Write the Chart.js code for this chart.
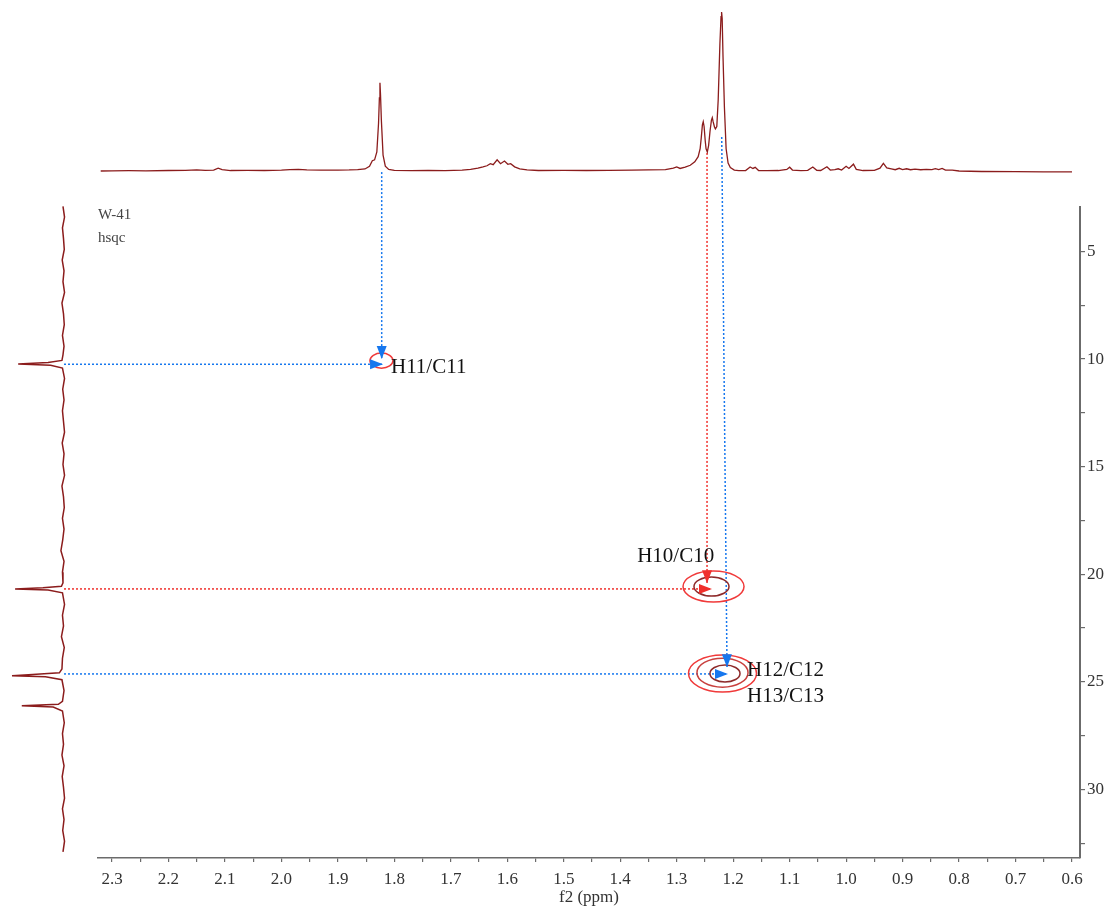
<!DOCTYPE html>
<html>
<head>
<meta charset="utf-8">
<title>W-41 hsqc</title>
<script src="https://cdn.jsdelivr.net/npm/chart.js@4.4.1/dist/chart.umd.min.js"></script>
<style>
  html, body { margin: 0; padding: 0; background: #fff; overflow: hidden; }
  #hsqc { display: block; }
</style>
</head>
<body>
<canvas id="hsqc" width="1115" height="906"></canvas>
<script>
// W-41 HSQC - 2D map with 1H trace on top and 13C trace on the left

// ── Axis ticks ────────────────────────────────────────────────────────────────
const xLabelTicks = [2.3, 2.2, 2.1, 2.0, 1.9, 1.8, 1.7, 1.6, 1.5, 1.4, 1.3, 1.2, 1.1, 1.0, 0.9, 0.8, 0.7, 0.6];
const xMinorTicks = [2.25, 2.15, 2.05, 1.95, 1.85, 1.75, 1.65, 1.55, 1.45, 1.35, 1.25, 1.15, 1.05, 0.95, 0.85, 0.75, 0.65];
const yLabelTicks = [5, 10, 15, 20, 25, 30];
const yMinorTicks = [7.5, 12.5, 17.5, 22.5, 27.5, 32.5];

// ── 1H trace (f2, top) ────────────────────────────────────────────────────────
const specPpm = [
    2.320, 2.300, 2.270, 2.240, 2.200, 2.170, 2.150, 2.135, 2.120, 2.112, 2.105, 2.090,
    2.060, 2.030, 2.000, 1.985, 1.970, 1.955, 1.930, 1.900, 1.880, 1.865, 1.852, 1.844,
    1.839, 1.835, 1.831, 1.828, 1.8265, 1.8255, 1.8245, 1.823, 1.820, 1.816, 1.810, 1.800,
    1.770, 1.740, 1.710, 1.680, 1.665, 1.652, 1.643, 1.636, 1.630, 1.625, 1.618, 1.612,
    1.605, 1.599, 1.594, 1.587, 1.578, 1.565, 1.545, 1.500, 1.460, 1.420, 1.380, 1.350,
    1.320, 1.306, 1.300, 1.294, 1.285, 1.276, 1.268, 1.262, 1.2585, 1.2565, 1.2545, 1.253,
    1.2515, 1.2495, 1.248, 1.2458, 1.2435, 1.241, 1.2385, 1.237, 1.2355, 1.233, 1.2315, 1.229,
    1.2265, 1.2235, 1.2215, 1.2205, 1.2195, 1.218, 1.2155, 1.2125, 1.209, 1.205, 1.198, 1.190,
    1.178, 1.170, 1.165, 1.161, 1.155, 1.140, 1.120, 1.105, 1.100, 1.095, 1.080, 1.068,
    1.059, 1.052, 1.045, 1.034, 1.028, 1.020, 1.014, 1.008, 1.000, 0.995, 0.987, 0.982,
    0.970, 0.950, 0.940, 0.934, 0.928, 0.920, 0.913, 0.906, 0.900, 0.893, 0.886, 0.878,
    0.868, 0.858, 0.848, 0.842, 0.836, 0.830, 0.824, 0.812, 0.800, 0.760, 0.700, 0.650, 0.600
];
const specInt = [
    0.0, 0.1, 0.2, 0.1, 0.3, 0.4, 0.7, 0.4, 0.6, 1.8, 0.8, 0.3,
    0.4, 0.3, 0.6, 0.9, 1.0, 0.7, 0.5, 0.6, 0.7, 0.9, 1.3, 3.0,
    6.5, 7.0, 12, 30, 46, 55.5, 48, 32, 10, 3.0, 1.0, 0.4,
    0.2, 0.3, 0.2, 0.6, 1.0, 1.8, 2.6, 3.3, 4.6, 4.0, 7.0, 4.6,
    6.3, 4.2, 4.6, 2.6, 1.3, 0.7, 0.3, 0.4, 0.3, 0.4, 0.5, 0.7,
    0.9, 1.8, 2.6, 1.6, 2.4, 3.6, 5.8, 9.0, 14, 21, 29, 31,
    28, 19, 14, 12, 16, 25, 32, 33.5, 31, 27.5, 26.5, 28,
    45, 80, 97, 100, 96, 72, 40, 14, 5, 2.2, 0.6, 0.2,
    0.3, 2.5, 1.6, 2.3, 0.3, 0.2, 0.3, 1.0, 2.4, 0.6, 0.2, 0.4,
    2.5, 0.4, 0.3, 2.7, 0.6, 0.8, 1.4, 0.6, 3.0, 1.6, 4.3, 1.0,
    0.3, 0.4, 1.8, 4.8, 2.0, 1.4, 0.8, 1.7, 0.9, 1.4, 0.8, 1.2,
    0.8, 1.0, 0.9, 1.5, 0.9, 1.6, 0.6, 0.5, 0.0, -0.3, -0.4, -0.5, -0.6
];

// ── 13C trace (f1, left) ──────────────────────────────────────────────────────
const projPpm = [
    2.9, 3.4, 3.9, 4.4, 4.9, 5.4, 5.9, 6.4, 6.9, 7.4, 7.9, 8.4, 8.9, 9.4, 9.8,
    10.06, 10.16, 10.23, 10.29, 10.42, 10.9, 11.4, 11.9, 12.4, 12.9, 13.4, 13.9,
    14.4, 14.9, 15.4, 15.9, 16.4, 16.9, 17.4, 17.9, 18.4, 18.9, 19.4, 19.9, 20.4,
    20.56, 20.63, 20.68, 20.73, 20.86, 21.4, 21.9, 22.4, 22.9, 23.4, 23.9, 24.4,
    24.58, 24.66, 24.71, 24.76, 24.9, 25.4, 25.9, 26.04, 26.11, 26.17, 26.35, 26.9,
    27.4, 27.9, 28.4, 28.9, 29.4, 29.9, 30.4, 30.9, 31.4, 31.9, 32.4, 32.9
];
const projInt = [
    1, -2, 2, 0, -1.5, 2.5, -1, 1, -2, 3, 0, -1.5, 2, -1, 1,
    3, 30, 88, 25, 2, -2, 1.5, -1, 2, 0, -2, 2.5,
    -1, 1, -2, 3, 0, -1.5, 2, -1, 1.5, 5, -1, 2, 1,
    4, 40, 94, 30, 2, -2, 2, 0, 4, -1.5, 2, 3,
    8, 60, 100, 35, 3, -1, 2, 10, 81, 20, 2, -1.5,
    2, 0, 3, -1, 2.5, 0, -2, 2, -1, 1.5, -2, 1
];

// ── Cross peaks (centre and half widths in ppm, contour level 0 = outer) ───────
const contourH      = [1.8228, 1.2348, 1.2384, 1.2189, 1.2189, 1.2145];
const contourC      = [10.07, 20.57, 20.57, 24.61, 24.57, 24.61];
const contourHalfH  = [0.0204, 0.054, 0.031, 0.0602, 0.0452, 0.0266];
const contourHalfC  = [0.35, 0.72, 0.44, 0.86, 0.674, 0.395];
const contourLevel  = [0, 0, 2, 0, 1, 2];

const peakNames  = ['H11/C11', 'H10/C10', 'H12/C12', 'H13/C13'];
const peakLabelH = [1.806, 1.370, 1.1755, 1.1755];
const peakLabelC = [10.41, 19.15, 24.45, 25.70];

// ── Correlation arrows (C below the axis start reaches up into the 1H trace) ──
const arrowFromH = [1.8224, 2.385, 1.2463, 2.385, 1.2203, 2.385];
const arrowFromC = [1.31, 10.24, 0.42, 20.68, -0.32, 24.63];
const arrowToH   = [1.8224, 1.820, 1.2463, 1.2375, 1.2109, 1.2092];
const arrowToC   = [10.0, 10.24, 20.42, 20.68, 24.32, 24.63];
const arrowTone  = ['blue', 'blue', 'red', 'red', 'blue', 'blue'];

// ── Layout & style ────────────────────────────────────────────────────────────
const AREA = { left: 98, top: 207, right: 1080, bottom: 858 };
const CANVAS_W = 1115, CANVAS_H = 906;

const colors = {
    trace: '#8b1c1c',
    axis: '#6b6b6b',
    tick: '#333333',
    blue: '#1677ee',
    red: '#f0302c',
    contour: ['#f03a3a', '#c8403e', '#8e2a2a']
};
const serif = "'Liberation Serif', 'Times New Roman', serif";

// value/pixel anchors measured on the reference -> min/max/reverse for a scale
function fitAxis(v0, p0, v1, p1, lo, hi, vertical) {
    const s = (p1 - p0) / (v1 - v0);
    const reverse = vertical ? s > 0 : s < 0;
    const pMin = vertical ? (reverse ? lo : hi) : (reverse ? hi : lo);
    const pMax = vertical ? (reverse ? hi : lo) : (reverse ? lo : hi);
    return { min: v0 + (pMin - p0) / s, max: v0 + (pMax - p0) / s, reverse: reverse };
}

const xFit    = fitAxis(2.3, 112, 0.6, 1072, AREA.left, AREA.right, false);
const yFit    = fitAxis(5, 251.5, 30, 789.5, AREA.top, AREA.bottom, true);
const specFit = fitAxis(0, 171, 100, 12, AREA.top, AREA.bottom, true);
const projFit = fitAxis(0, 63.5, 100, 12, AREA.left, AREA.right, false);

const tickList = (major, minor) => major.concat(minor).sort((a, b) => a - b).map(v => ({ value: v }));

// ── Datasets ──────────────────────────────────────────────────────────────────
const datasets = [
    {
        label: '1H',
        data: specPpm.map((p, i) => ({ x: p, y: specInt[i] })),
        xAxisID: 'x', yAxisID: 'ySpec',
        borderColor: colors.trace, borderWidth: 1.3, clip: false
    },
    {
        label: '13C',
        data: projInt.map((v, i) => ({ x: v, y: projPpm[i] })),
        xAxisID: 'xProj', yAxisID: 'y',
        borderColor: colors.trace, borderWidth: 1.5, clip: false
    }
];
arrowFromH.forEach((h, i) => {
    datasets.push({
        label: 'arrow' + i,
        data: [{ x: h, y: arrowFromC[i] }, { x: arrowToH[i], y: arrowToC[i] }],
        xAxisID: 'x', yAxisID: 'y',
        borderColor: colors[arrowTone[i]], borderWidth: 1.5, borderDash: [2, 2],
        clip: false, arrowHead: true
    });
});

// ── Contours, arrow heads and text ────────────────────────────────────────────
const overlay = {
    id: 'overlay',
    afterDatasetsDraw(chart) {
        const ctx = chart.ctx;
        const x = chart.scales.x, y = chart.scales.y;

        ctx.save();
        ctx.lineWidth = 1.5;
        contourH.forEach((h, i) => {
            const cx = x.getPixelForValue(h), cy = y.getPixelForValue(contourC[i]);
            const rx = Math.abs(x.getPixelForValue(h + contourHalfH[i]) - cx);
            const ry = Math.abs(y.getPixelForValue(contourC[i] + contourHalfC[i]) - cy);
            ctx.strokeStyle = colors.contour[contourLevel[i]];
            ctx.beginPath();
            ctx.ellipse(cx, cy, rx, ry, 0, 0, Math.PI * 2);
            ctx.stroke();
        });

        chart.data.datasets.forEach((ds, i) => {
            if (!ds.arrowHead) return;
            const pts = chart.getDatasetMeta(i).data;
            const a = pts[pts.length - 2], b = pts[pts.length - 1];
            ctx.save();
            ctx.translate(b.x, b.y);
            ctx.rotate(Math.atan2(b.y - a.y, b.x - a.x));
            ctx.fillStyle = ds.borderColor;
            ctx.beginPath();
            ctx.moveTo(0, 0);
            ctx.lineTo(-13, -5);
            ctx.lineTo(-13, 5);
            ctx.closePath();
            ctx.fill();
            ctx.restore();
        });

        ctx.fillStyle = '#111';
        ctx.font = '21px ' + serif;
        ctx.textAlign = 'left';
        ctx.textBaseline = 'middle';
        peakNames.forEach((name, i) => {
            ctx.fillText(name, x.getPixelForValue(peakLabelH[i]), y.getPixelForValue(peakLabelC[i]));
        });

        ctx.fillStyle = '#444';
        ctx.font = '15px ' + serif;
        ctx.fillText('W-41', chart.chartArea.left, chart.chartArea.top + 8);
        ctx.fillText('hsqc', chart.chartArea.left, chart.chartArea.top + 31);
        ctx.restore();
    }
};

// ── Chart ─────────────────────────────────────────────────────────────────────
new Chart(document.getElementById('hsqc'), {
    type: 'line',
    data: { datasets: datasets },
    options: {
        responsive: false,
        animation: false,
        events: [],
        devicePixelRatio: 1,
        layout: { padding: { left: AREA.left, top: AREA.top, right: 0, bottom: 0 } },
        elements: { point: { radius: 0 }, line: { tension: 0 } },
        plugins: { legend: { display: false }, tooltip: { enabled: false } },
        scales: {
            x: {
                type: 'linear', position: 'bottom', bounds: 'data',
                min: xFit.min, max: xFit.max, reverse: xFit.reverse,
                afterBuildTicks: s => { s.ticks = tickList(xLabelTicks, xMinorTicks); },
                afterFit: s => { s.height = CANVAS_H - AREA.bottom; },
                border: { color: colors.axis, width: 1.5 },
                grid: { drawOnChartArea: false, tickLength: 4, color: colors.axis, lineWidth: 1.2 },
                ticks: {
                    autoSkip: false, maxRotation: 0,
                    padding: 7, color: colors.tick, font: { family: serif, size: 17 },
                    callback: v => xLabelTicks.includes(v) ? v.toFixed(1) : ''
                },
                title: {
                    display: true, text: 'f2 (ppm)', color: colors.tick,
                    font: { family: serif, size: 17 }, padding: { top: 0, bottom: -2 }
                }
            },
            y: {
                type: 'linear', position: 'right', bounds: 'data',
                min: yFit.min, max: yFit.max, reverse: yFit.reverse,
                afterBuildTicks: s => { s.ticks = tickList(yLabelTicks, yMinorTicks); },
                afterFit: s => { s.width = CANVAS_W - AREA.right; },
                border: { color: colors.axis, width: 2 },
                grid: { drawOnChartArea: false, tickLength: 5, color: colors.axis, lineWidth: 1.2 },
                ticks: {
                    autoSkip: false,
                    padding: 2, color: colors.tick, font: { family: serif, size: 17 },
                    callback: v => yLabelTicks.includes(v) ? String(v) : ''
                }
            },
            ySpec: {
                type: 'linear', display: false, bounds: 'data',
                min: specFit.min, max: specFit.max, reverse: specFit.reverse
            },
            xProj: {
                type: 'linear', display: false, bounds: 'data',
                min: projFit.min, max: projFit.max, reverse: projFit.reverse
            }
        }
    },
    plugins: [overlay]
});
</script>
</body>
</html>
